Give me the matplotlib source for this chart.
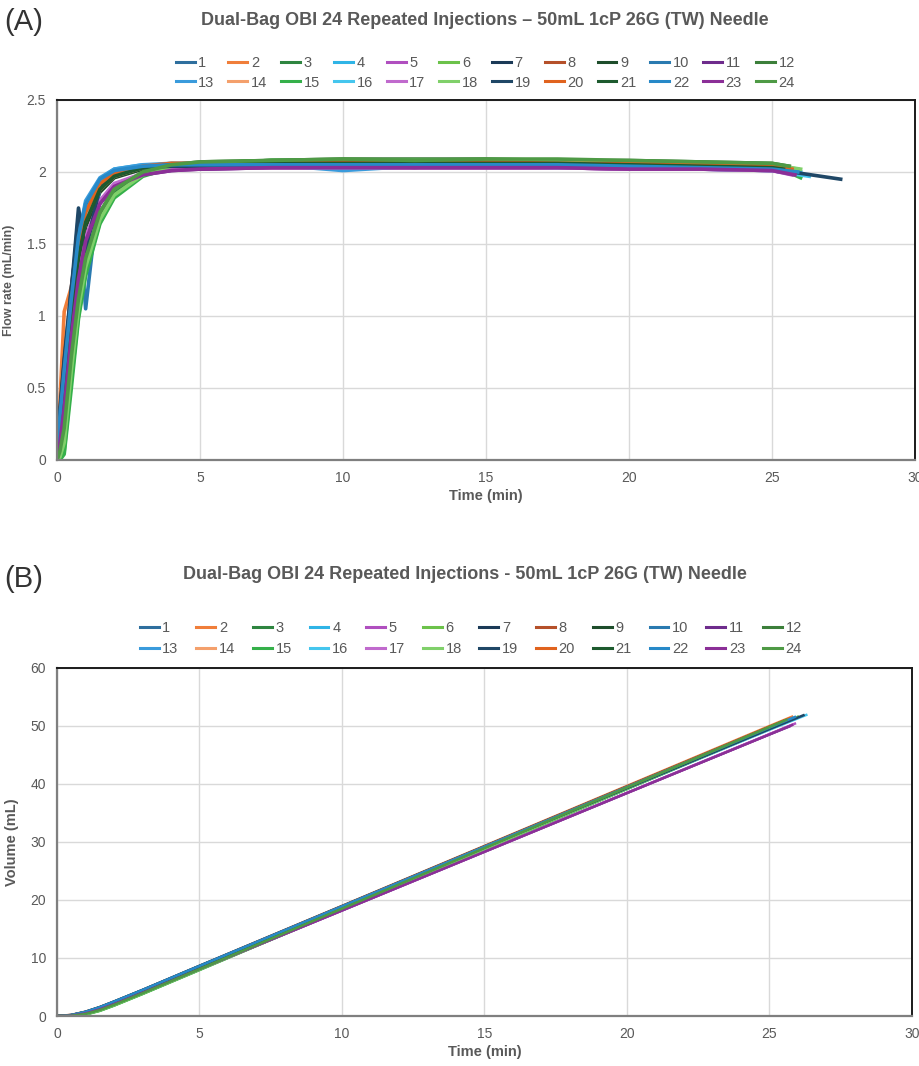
import matplotlib
matplotlib.use("Agg")
import matplotlib.pyplot as plt
from matplotlib.ticker import FuncFormatter

plt.rcParams['font.family'] = ['Liberation Sans', 'DejaVu Sans']

run_labels = [str(i) for i in range(1, 25)]
run_colors = ['#2E6F9E', '#F07E3A', '#2E8540', '#2FB4E6', '#B04FBF', '#6CC24A',
              '#1B3A57', '#B5502A', '#1E4D2B', '#2A7AB0', '#6E2C8C', '#3C7F3A',
              '#3A9BDC', '#F4A06C', '#35B04A', '#45C6EE', '#C06ACD', '#80D06A',
              '#1F4766', '#E0631E', '#1D5A2E', '#2789C8', '#8B2F97', '#4E9A45']

# flow rate keypoints (mL/min)
t_flow = [0, 0.1, 0.25, 0.5, 0.75, 1.0, 1.5, 2, 3, 4, 5, 7.5, 10, 12.5, 15, 17.5, 20, 22.5, 25]
flow_runs = [
    [0, 0.30, 0.62, 1.15, 1.52, 1.75, 1.93, 2.00, 2.04, 2.05, 2.05, 2.06, 2.05, 2.05, 2.05, 2.05, 2.04, 2.03, 2.02],
    [0, 0.40, 1.03, 1.20, 1.55, 1.72, 1.92, 1.99, 2.04, 2.06, 2.06, 2.07, 2.07, 2.07, 2.07, 2.06, 2.06, 2.05, 2.04],
    [0, 0.02, 0.10, 0.62, 1.05, 1.35, 1.68, 1.85, 1.99, 2.04, 2.06, 2.08, 2.08, 2.03, 2.08, 2.08, 2.07, 2.06, 2.05],
    [0, 0.28, 0.58, 1.10, 1.50, 1.78, 1.95, 2.02, 2.05, 2.05, 2.05, 2.05, 2.04, 2.04, 2.04, 2.04, 2.04, 2.03, 2.02],
    [0, 0.12, 0.38, 0.88, 1.28, 1.52, 1.80, 1.91, 1.99, 2.02, 2.02, 2.03, 2.03, 2.03, 2.03, 2.03, 2.02, 2.02, 2.01],
    [0, 0.00, 0.06, 0.55, 1.00, 1.30, 1.65, 1.83, 1.98, 2.04, 2.06, 2.08, 2.08, 2.08, 2.08, 2.07, 2.07, 2.06, 2.05],
    [0, 0.35, 0.70, 1.20, 1.60, 1.75, 1.90, 1.98, 2.03, 2.04, 2.05, 2.05, 2.05, 2.05, 2.05, 2.05, 2.04, 2.03, 2.02],
    [0, 0.20, 0.50, 1.00, 1.40, 1.65, 1.88, 1.97, 2.03, 2.05, 2.06, 2.06, 2.06, 2.06, 2.06, 2.06, 2.05, 2.05, 2.04],
    [0, 0.15, 0.45, 0.95, 1.35, 1.62, 1.86, 1.96, 2.02, 2.04, 2.05, 2.05, 2.05, 2.05, 2.05, 2.05, 2.04, 2.04, 2.03],
    [0, 0.30, 0.64, 1.15, 1.70, 1.05, 1.92, 2.00, 2.04, 2.05, 2.05, 2.06, 2.05, 2.05, 2.05, 2.05, 2.04, 2.03, 2.02],
    [0, 0.10, 0.35, 0.85, 1.25, 1.50, 1.78, 1.90, 1.98, 2.01, 2.02, 2.03, 2.03, 2.03, 2.03, 2.03, 2.02, 2.02, 2.01],
    [0, 0.05, 0.20, 0.70, 1.12, 1.40, 1.72, 1.88, 2.00, 2.05, 2.07, 2.08, 2.09, 2.09, 2.09, 2.08, 2.08, 2.07, 2.06],
    [0, 0.30, 0.60, 1.12, 1.55, 1.80, 1.96, 2.02, 2.05, 2.06, 2.06, 2.05, 2.01, 2.04, 2.04, 2.04, 2.04, 2.03, 2.02],
    [0, 0.22, 0.52, 1.02, 1.42, 1.66, 1.88, 1.97, 2.03, 2.05, 2.06, 2.06, 2.06, 2.06, 2.06, 2.06, 2.05, 2.05, 2.04],
    [0, 0.00, 0.04, 0.50, 0.98, 1.28, 1.64, 1.82, 1.97, 2.03, 2.06, 2.08, 2.08, 2.08, 2.08, 2.08, 2.07, 2.06, 2.05],
    [0, 0.25, 0.55, 1.08, 1.48, 1.72, 1.93, 2.00, 2.04, 2.04, 2.04, 2.04, 2.04, 2.04, 2.04, 2.03, 2.03, 2.02, 2.01],
    [0, 0.15, 0.40, 0.90, 1.30, 1.55, 1.80, 1.92, 1.99, 2.02, 2.03, 2.03, 2.03, 2.03, 2.03, 2.03, 2.02, 2.02, 2.01],
    [0, 0.02, 0.12, 0.62, 1.05, 1.34, 1.67, 1.84, 1.98, 2.04, 2.06, 2.07, 2.08, 2.08, 2.08, 2.07, 2.07, 2.06, 2.05],
    [0, 0.32, 0.68, 1.18, 1.75, 1.45, 1.90, 1.98, 2.03, 2.04, 2.04, 2.05, 2.04, 2.04, 2.04, 2.04, 2.03, 2.03, 2.02],
    [0, 0.25, 0.60, 1.10, 1.50, 1.72, 1.92, 1.99, 2.04, 2.06, 2.06, 2.07, 2.07, 2.07, 2.07, 2.06, 2.06, 2.05, 2.04],
    [0, 0.20, 0.50, 1.00, 1.40, 1.65, 1.88, 1.97, 2.03, 2.05, 2.05, 2.06, 2.06, 2.06, 2.06, 2.06, 2.05, 2.04, 2.03],
    [0, 0.30, 0.62, 1.12, 1.55, 1.78, 1.95, 2.01, 2.04, 2.05, 2.05, 2.05, 2.05, 2.05, 2.05, 2.05, 2.04, 2.03, 2.02],
    [0, 0.12, 0.36, 0.86, 1.26, 1.52, 1.78, 1.90, 1.98, 2.01, 2.02, 2.03, 2.03, 2.03, 2.03, 2.03, 2.02, 2.02, 2.01],
    [0, 0.06, 0.22, 0.72, 1.12, 1.40, 1.72, 1.88, 2.00, 2.05, 2.07, 2.08, 2.09, 2.08, 2.09, 2.09, 2.08, 2.07, 2.06],
]
flow_end_t = [25.6, 25.8, 25.4, 26.0, 25.7, 25.9, 25.5, 25.7, 25.3, 25.8, 25.7, 25.6,
              25.9, 25.8, 26.0, 26.3, 25.8, 26.0, 27.4, 25.7, 25.4, 25.9, 25.8, 25.6]
flow_end_v = [2.00, 2.02, 2.03, 2.00, 1.98, 2.02, 2.00, 2.02, 2.02, 2.00, 1.99, 2.04,
              2.00, 2.02, 1.96, 1.97, 1.99, 2.02, 1.95, 2.02, 2.02, 2.00, 1.98, 2.04]

# cumulative volume keypoints (mL)
t_vol = [0, 0.5, 1, 1.5, 2, 3, 5, 10, 15, 20, 25]
vol_runs = [
    [0, 0.14, 0.68, 1.48, 2.43, 4.43, 8.58, 18.88, 29.18, 39.48, 49.75],
    [0, 0.20, 0.75, 1.55, 2.50, 4.50, 8.65, 18.98, 29.32, 39.66, 49.98],
    [0, 0.02, 0.30, 0.95, 1.85, 3.85, 8.00, 18.40, 28.80, 39.20, 49.58],
    [0, 0.14, 0.70, 1.50, 2.46, 4.46, 8.60, 18.85, 29.05, 39.25, 49.40],
    [0, 0.06, 0.46, 1.16, 2.06, 4.02, 8.10, 18.20, 28.32, 38.45, 48.55],
    [0, 0.01, 0.28, 0.92, 1.82, 3.82, 7.96, 18.35, 28.74, 39.12, 49.48],
    [0, 0.18, 0.74, 1.54, 2.50, 4.50, 8.66, 18.95, 29.25, 39.55, 49.83],
    [0, 0.10, 0.55, 1.30, 2.22, 4.22, 8.38, 18.70, 29.02, 39.34, 49.64],
    [0, 0.08, 0.50, 1.25, 2.16, 4.16, 8.32, 18.68, 29.04, 39.40, 49.74],
    [0, 0.14, 0.66, 1.42, 2.38, 4.40, 8.56, 18.86, 29.16, 39.46, 49.74],
    [0, 0.05, 0.44, 1.14, 2.04, 4.00, 8.08, 18.18, 28.30, 38.42, 48.52],
    [0, 0.03, 0.34, 1.00, 1.90, 3.90, 8.06, 18.48, 28.92, 39.36, 49.76],
    [0, 0.15, 0.70, 1.50, 2.47, 4.48, 8.62, 18.86, 29.08, 39.30, 49.50],
    [0, 0.11, 0.56, 1.32, 2.24, 4.24, 8.40, 18.72, 29.04, 39.36, 49.66],
    [0, 0.00, 0.24, 0.88, 1.78, 3.78, 7.92, 18.32, 28.72, 39.12, 49.50],
    [0, 0.13, 0.66, 1.46, 2.42, 4.42, 8.56, 18.78, 28.98, 39.18, 49.34],
    [0, 0.07, 0.48, 1.18, 2.08, 4.04, 8.12, 18.22, 28.34, 38.46, 48.58],
    [0, 0.02, 0.30, 0.94, 1.84, 3.84, 7.98, 18.38, 28.78, 39.16, 49.52],
    [0, 0.16, 0.70, 1.50, 2.46, 4.46, 8.60, 18.84, 29.06, 39.26, 49.44],
    [0, 0.12, 0.62, 1.40, 2.34, 4.34, 8.50, 18.84, 29.18, 39.52, 49.84],
    [0, 0.10, 0.55, 1.30, 2.22, 4.22, 8.38, 18.70, 29.04, 39.38, 49.70],
    [0, 0.15, 0.70, 1.50, 2.46, 4.46, 8.60, 18.88, 29.16, 39.44, 49.70],
    [0, 0.06, 0.45, 1.15, 2.05, 4.01, 8.09, 18.19, 28.31, 38.43, 48.53],
    [0, 0.03, 0.35, 1.02, 1.92, 3.92, 8.08, 18.50, 28.94, 39.38, 49.80],
]
vol_end_t = [25.6, 25.8, 25.4, 26.0, 25.9, 25.9, 25.5, 25.7, 25.3, 25.8, 25.7, 25.6,
             25.9, 25.8, 26.0, 26.3, 25.8, 26.0, 26.2, 25.7, 25.4, 25.9, 25.8, 25.6]
vol_end_v = [50.95, 51.6, 50.4, 51.4, 50.4, 51.35, 50.85, 51.05, 50.35, 51.35, 49.9, 51.0,
             51.3, 51.3, 51.55, 51.9, 50.2, 51.58, 51.85, 51.3, 50.5, 51.55, 50.15, 51.05]

TXT = '#595959'


def style_axes(ax, ymax, ystep, ylabel, ylabel_size):
    ax.set_xlim(0, 30)
    ax.set_ylim(0, ymax)
    ax.set_xticks(range(0, 31, 5))
    ax.set_yticks([i * ystep for i in range(int(round(ymax / ystep)) + 1)])
    ax.yaxis.set_major_formatter(FuncFormatter(lambda v, p: f"{v:g}"))
    ax.grid(True, color='#d9d9d9', linewidth=1.0)
    ax.set_axisbelow(True)
    for side in ['left', 'bottom']:
        ax.spines[side].set_color('#7f7f7f')
        ax.spines[side].set_linewidth(1.6)
    for side in ['top', 'right']:
        ax.spines[side].set_color('#1a1a1a')
        ax.spines[side].set_linewidth(1.4)
    ax.tick_params(length=0, labelsize=10, colors=TXT, pad=8)
    ax.set_xlabel("Time (min)", fontsize=10.5, fontweight='bold', color=TXT, labelpad=3)
    ax.set_ylabel(ylabel, fontsize=ylabel_size, fontweight='bold', color=TXT, labelpad=8)


def row_major_legend(ax, anchor, colspacing, rowspacing):
    # matplotlib fills legend columns first; reorder so row 1 is 1-12, row 2 is 13-24
    handles, labels = ax.get_legend_handles_labels()
    order = []
    for c in range(12):
        order += [c, c + 12]
    leg = ax.legend([handles[k] for k in order], [labels[k] for k in order],
                    ncol=12, loc='center', bbox_to_anchor=anchor, frameon=False,
                    fontsize=10.5, handlelength=1.3, handletextpad=0.25,
                    columnspacing=colspacing, labelspacing=rowspacing, labelcolor=TXT)
    for h in leg.legend_handles:
        h.set_linewidth(2.2)


fig = plt.figure(figsize=(9.2, 10.66), dpi=100)

# panel A: flow rate
ax1 = fig.add_axes([0.062, 0.5685, 0.9326, 0.3377])
for i in range(24):
    ax1.plot(t_flow + [flow_end_t[i]], flow_runs[i] + [flow_end_v[i]],
             color=run_colors[i], linewidth=2.6, label=run_labels[i])
style_axes(ax1, 2.5, 0.5, "Flow rate (mL/min)", 9)
row_major_legend(ax1, (0.499, 1.075), 0.95, 0.35)
fig.text(0.527, 0.981, "Dual-Bag OBI 24 Repeated Injections \u2013 50mL 1cP 26G (TW) Needle",
         ha='center', va='center', fontsize=13, fontweight='bold', color=TXT)
fig.text(0.005, 0.979, "(A)", ha='left', va='center', fontsize=21, color='#333333')

# panel B: volume
ax2 = fig.add_axes([0.062, 0.0469, 0.929, 0.3265])
for i in range(24):
    ax2.plot(t_vol + [vol_end_t[i]], vol_runs[i] + [vol_end_v[i]],
             color=run_colors[i], linewidth=1.8, label=run_labels[i])
style_axes(ax2, 60, 10, "Volume (mL)", 10.5)
row_major_legend(ax2, (0.484, 1.085), 1.22, 0.5)
fig.text(0.505, 0.461, "Dual-Bag OBI 24 Repeated Injections - 50mL 1cP 26G (TW) Needle",
         ha='center', va='center', fontsize=13, fontweight='bold', color=TXT)
fig.text(0.005, 0.457, "(B)", ha='left', va='center', fontsize=21, color='#333333')

fig.savefig("out.png", dpi=100)
